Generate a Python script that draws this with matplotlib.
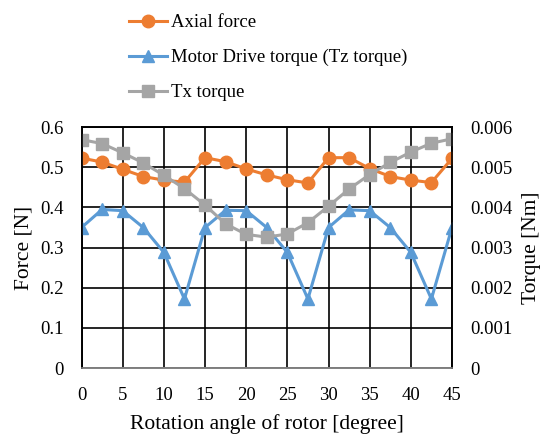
import matplotlib
matplotlib.use("Agg")
from matplotlib import pyplot as plt

plt.rcParams['font.family'] = ['Liberation Serif', 'DejaVu Serif']

angle = [0, 2.5, 5, 7.5, 10, 12.5, 15, 17.5, 20, 22.5, 25, 27.5, 30, 32.5, 35, 37.5, 40, 42.5, 45]
axialForce = [0.523, 0.513, 0.495, 0.477, 0.468, 0.463, 0.524, 0.514, 0.496, 0.481, 0.469, 0.461,
              0.524, 0.524, 0.497, 0.477, 0.468, 0.462, 0.522]
tzTorque = [0.0035, 0.00395, 0.00392, 0.0035, 0.00288, 0.00172, 0.0035, 0.00393, 0.00392, 0.0035,
            0.00288, 0.00172, 0.0035, 0.00394, 0.00392, 0.0035, 0.00288, 0.00172, 0.0035]
txTorque = [0.00569, 0.00559, 0.00536, 0.00511, 0.00480, 0.00447, 0.00406, 0.00359, 0.00333, 0.00326,
            0.00334, 0.00362, 0.00403, 0.00446, 0.00482, 0.00512, 0.00538, 0.00560, 0.00571]

forceTicks = [0, 0.1, 0.2, 0.3, 0.4, 0.5, 0.6]
forceLabels = ["0", "0.1", "0.2", "0.3", "0.4", "0.5", "0.6"]
torqueTicks = [0, 0.001, 0.002, 0.003, 0.004, 0.005, 0.006]
torqueLabels = ["0", "0.001", "0.002", "0.003", "0.004", "0.005", "0.006"]
xTicks = [0, 5, 10, 15, 20, 25, 30, 35, 40, 45]

orange = '#ED7D31'
blue = '#5B9BD5'
gray = '#A5A5A5'

fig = plt.figure(figsize=(5.4, 4.34), dpi=100)
ax = fig.add_axes([0.151, 0.152, 0.686, 0.555])
ax2 = ax.twinx()

# gridlines in black, behind the series
ax.set_axisbelow(True)
ax.grid(True, color='black', linewidth=1.2)

l1, = ax.plot(angle, axialForce, color=orange, marker='o', markersize=9, linewidth=2.2,
              label='Axial force', zorder=3)
l2, = ax2.plot(angle, tzTorque, color=blue, marker='^', markersize=9, linewidth=2.2,
               label='Motor Drive torque (Tz torque)')
l3, = ax2.plot(angle, txTorque, color=gray, marker='s', markersize=8.5, linewidth=2.2,
               label='Tx torque')

ax.set_xlim(0, 45)
ax.set_ylim(0, 0.6)
ax2.set_ylim(0, 0.006)
ax.set_xticks(xTicks)
ax.set_yticks(forceTicks)
ax.set_yticklabels(forceLabels)
ax2.set_yticks(torqueTicks)
ax2.set_yticklabels(torqueLabels)

for a in (ax, ax2):
    a.tick_params(axis='y', length=0, labelsize=13.5, pad=13)
    a.tick_params(axis='x', length=0, labelsize=13.5, pad=14)
    for s in ('left', 'right', 'top'):
        a.spines[s].set_color('black')
        a.spines[s].set_linewidth(1.2)
    a.spines['bottom'].set_color('#808080')
    a.spines['bottom'].set_linewidth(1.2)

ax.set_xlabel('Rotation angle of rotor [degree]', fontsize=15.5, labelpad=7)
ax.set_ylabel('Force [N]', fontsize=15.5, labelpad=5)
ax2.set_ylabel('Torque [Nm]', fontsize=15.5, labelpad=7)

fig.legend(handles=[l1, l2, l3], loc='upper left', bbox_to_anchor=(0.213, 1.0),
           frameon=False, fontsize=13.5, labelspacing=0.95, handlelength=2.0,
           handletextpad=0.25, borderaxespad=0.35)

plt.savefig('out.png', dpi=100)
